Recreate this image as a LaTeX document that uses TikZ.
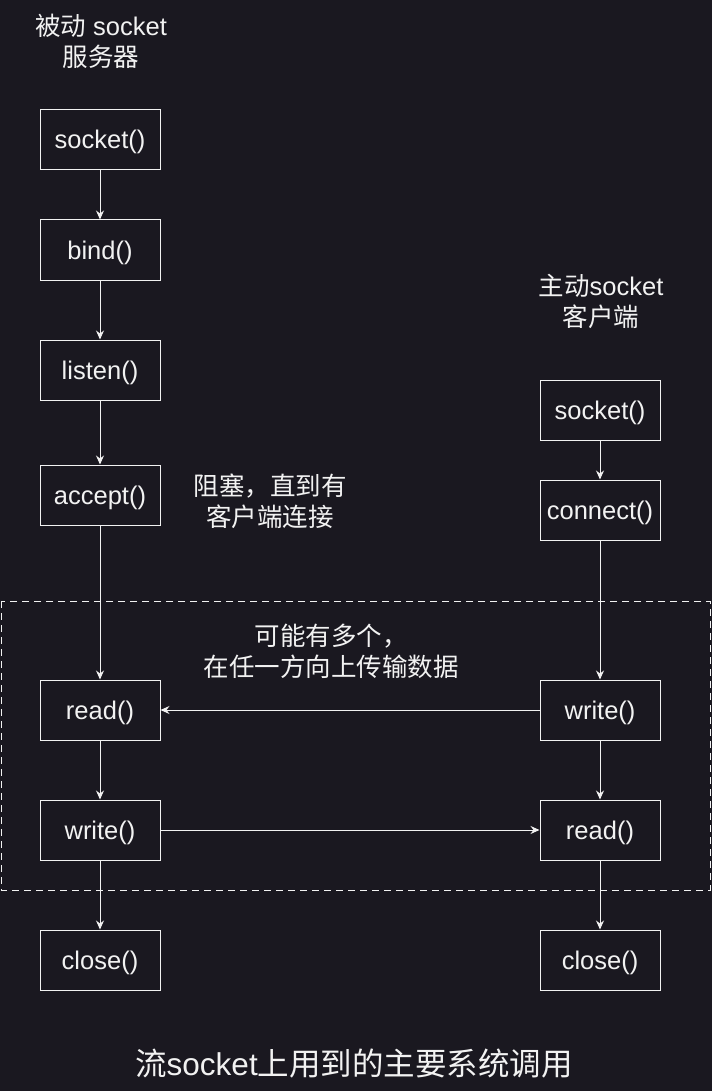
\documentclass[tikz,border=0pt]{standalone}
\usepackage{fontspec}
\setmainfont{Liberation Sans}
\newfontfamily\cjk{Noto Sans CJK SC}
\usetikzlibrary{arrows.meta}
\definecolor{bg}{HTML}{1A1820}
\definecolor{fg}{HTML}{F2F2F2}
\tikzset{
  fbox/.style={draw=fg, line width=1pt, fill=bg, minimum width=120pt, minimum height=60pt, inner sep=0pt, text height=22pt, text depth=4pt, text=fg, font=\fontsize{25.5}{30}\selectfont},
  lbl/.style={text=fg, align=center, font=\fontsize{25.5}{31}\selectfont, inner sep=0pt},
  conn/.style={draw=fg, line width=1pt, -{Stealth[length=9pt,width=8pt,inset=3pt]}},
}
\begin{document}
\begin{tikzpicture}[x=1pt,y=-1pt]
\fill[bg] (0,0) rectangle (712,1091);
\useasboundingbox (0,0) rectangle (712,1091);
% dashed group
\draw[fg, line width=1pt, dash pattern=on 7pt off 5pt] (1,601) rectangle (710,890);
% left column
\node[fbox] (ls) at (100,140) {socket()};
\node[fbox] (lb) at (100,250) {bind()};
\node[fbox] (ll) at (100,370) {listen()};
\node[fbox] (la) at (100,495) {accept()};
\node[fbox] (lr) at (100,710) {read()};
\node[fbox] (lw) at (100,830) {write()};
\node[fbox] (lc) at (100,960) {close()};
% right column
\node[fbox] (rs) at (600,410) {socket()};
\node[fbox] (rc) at (600,510) {connect()};
\node[fbox] (rw) at (600,710) {write()};
\node[fbox] (rr) at (600,830) {read()};
\node[fbox] (rcl) at (600,960) {close()};
% labels
\node[lbl] (t1) at (101,41) {{\cjk 被动} socket\\{\cjk 服务器}};
\node[lbl] (t2) at (601,301) {{\cjk 主动}socket\\{\cjk 客户端}};
\node[lbl] (t3) at (270,501) {{\cjk 阻塞，直到有}\\{\cjk 客户端连接}};
\node[lbl] (t4) at (331,651) {{\cjk 可能有多个，}\\{\cjk 在任一方向上传输数据}};
\node[text=fg, inner sep=0pt, font=\fontsize{31.5}{36}\selectfont] (cap) at (354,1064) {{\cjk 流}socket{\cjk 上用到的主要系统调用}};
% connectors
\draw[conn] (ls) -- (lb);
\draw[conn] (lb) -- (ll);
\draw[conn] (ll) -- (la);
\draw[conn] (la) -- (lr);
\draw[conn] (lr) -- (lw);
\draw[conn] (lw) -- (lc);
\draw[conn] (rs) -- (rc);
\draw[conn] (rc) -- (rw);
\draw[conn] (rw) -- (rr);
\draw[conn] (rr) -- (rcl);
\draw[conn] (rw) -- (lr);
\draw[conn] (lw) -- (rr);
\end{tikzpicture}
\end{document}
